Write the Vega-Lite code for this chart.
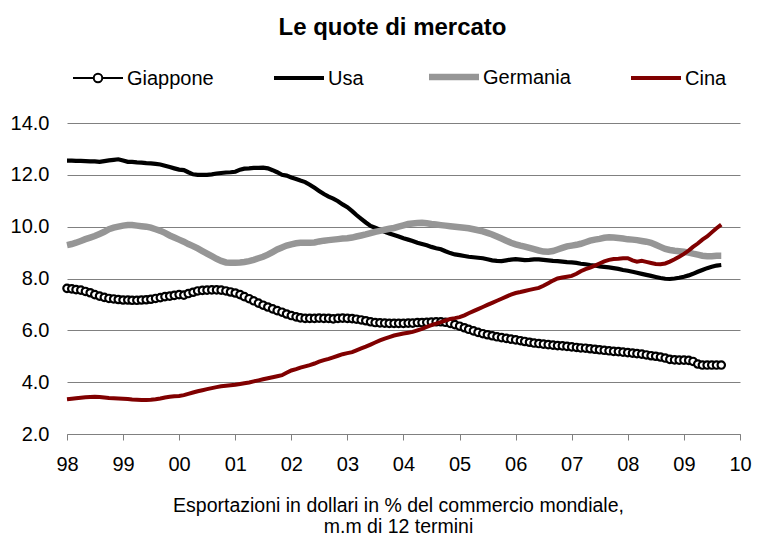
{
"$schema": "https://vega.github.io/schema/vega-lite/v6.json",
"width": 673, "height": 311,
"autosize": {"type": "none"},
"padding": {"left": 67, "top": 123, "right": 21, "bottom": 108},
"background": "white",
"title": {"text": "Le quote di mercato", "font": "Liberation Sans", "fontSize": 24, "fontWeight": "bold", "color": "black", "anchor": "middle", "dx": -11, "offset": 12},
"config": {"view": {"stroke": null}, "font": "Liberation Sans"},
"datasets": {
"gia": [
{"d":"1998-01","v":7.62},{"d":"1998-02","v":7.6},{"d":"1998-03","v":7.57},{"d":"1998-04","v":7.55},{"d":"1998-05","v":7.5},{"d":"1998-06","v":7.45},{"d":"1998-07","v":7.38},{"d":"1998-08","v":7.32},{"d":"1998-09","v":7.27},{"d":"1998-10","v":7.23},{"d":"1998-11","v":7.21},{"d":"1998-12","v":7.19},
{"d":"1999-01","v":7.17},{"d":"1999-02","v":7.17},{"d":"1999-03","v":7.16},{"d":"1999-04","v":7.16},{"d":"1999-05","v":7.17},{"d":"1999-06","v":7.18},{"d":"1999-07","v":7.2},{"d":"1999-08","v":7.23},{"d":"1999-09","v":7.26},{"d":"1999-10","v":7.3},{"d":"1999-11","v":7.32},{"d":"1999-12","v":7.35},
{"d":"2000-01","v":7.38},{"d":"2000-02","v":7.36},{"d":"2000-03","v":7.42},{"d":"2000-04","v":7.47},{"d":"2000-05","v":7.52},{"d":"2000-06","v":7.54},{"d":"2000-07","v":7.55},{"d":"2000-08","v":7.56},{"d":"2000-09","v":7.56},{"d":"2000-10","v":7.55},{"d":"2000-11","v":7.52},{"d":"2000-12","v":7.48},
{"d":"2001-01","v":7.44},{"d":"2001-02","v":7.38},{"d":"2001-03","v":7.3},{"d":"2001-04","v":7.22},{"d":"2001-05","v":7.14},{"d":"2001-06","v":7.05},{"d":"2001-07","v":6.97},{"d":"2001-08","v":6.9},{"d":"2001-09","v":6.83},{"d":"2001-10","v":6.76},{"d":"2001-11","v":6.7},{"d":"2001-12","v":6.63},
{"d":"2002-01","v":6.57},{"d":"2002-02","v":6.52},{"d":"2002-03","v":6.48},{"d":"2002-04","v":6.46},{"d":"2002-05","v":6.46},{"d":"2002-06","v":6.46},{"d":"2002-07","v":6.47},{"d":"2002-08","v":6.46},{"d":"2002-09","v":6.46},{"d":"2002-10","v":6.44},{"d":"2002-11","v":6.46},{"d":"2002-12","v":6.47},
{"d":"2003-01","v":6.46},{"d":"2003-02","v":6.45},{"d":"2003-03","v":6.43},{"d":"2003-04","v":6.4},{"d":"2003-05","v":6.37},{"d":"2003-06","v":6.33},{"d":"2003-07","v":6.3},{"d":"2003-08","v":6.29},{"d":"2003-09","v":6.28},{"d":"2003-10","v":6.27},{"d":"2003-11","v":6.27},{"d":"2003-12","v":6.27},
{"d":"2004-01","v":6.27},{"d":"2004-02","v":6.28},{"d":"2004-03","v":6.28},{"d":"2004-04","v":6.3},{"d":"2004-05","v":6.3},{"d":"2004-06","v":6.31},{"d":"2004-07","v":6.32},{"d":"2004-08","v":6.33},{"d":"2004-09","v":6.33},{"d":"2004-10","v":6.31},{"d":"2004-11","v":6.27},{"d":"2004-12","v":6.22},
{"d":"2005-01","v":6.16},{"d":"2005-02","v":6.1},{"d":"2005-03","v":6.04},{"d":"2005-04","v":5.98},{"d":"2005-05","v":5.92},{"d":"2005-06","v":5.87},{"d":"2005-07","v":5.83},{"d":"2005-08","v":5.79},{"d":"2005-09","v":5.75},{"d":"2005-10","v":5.72},{"d":"2005-11","v":5.69},{"d":"2005-12","v":5.66},
{"d":"2006-01","v":5.63},{"d":"2006-02","v":5.6},{"d":"2006-03","v":5.57},{"d":"2006-04","v":5.54},{"d":"2006-05","v":5.51},{"d":"2006-06","v":5.49},{"d":"2006-07","v":5.47},{"d":"2006-08","v":5.45},{"d":"2006-09","v":5.43},{"d":"2006-10","v":5.41},{"d":"2006-11","v":5.4},{"d":"2006-12","v":5.38},
{"d":"2007-01","v":5.36},{"d":"2007-02","v":5.34},{"d":"2007-03","v":5.32},{"d":"2007-04","v":5.31},{"d":"2007-05","v":5.29},{"d":"2007-06","v":5.27},{"d":"2007-07","v":5.25},{"d":"2007-08","v":5.23},{"d":"2007-09","v":5.21},{"d":"2007-10","v":5.19},{"d":"2007-11","v":5.18},{"d":"2007-12","v":5.16},
{"d":"2008-01","v":5.14},{"d":"2008-02","v":5.12},{"d":"2008-03","v":5.1},{"d":"2008-04","v":5.08},{"d":"2008-05","v":5.05},{"d":"2008-06","v":5.02},{"d":"2008-07","v":5.0},{"d":"2008-08","v":4.97},{"d":"2008-09","v":4.93},{"d":"2008-10","v":4.88},{"d":"2008-11","v":4.86},{"d":"2008-12","v":4.85},
{"d":"2009-01","v":4.85},{"d":"2009-02","v":4.84},{"d":"2009-03","v":4.8},{"d":"2009-04","v":4.7},{"d":"2009-05","v":4.66},{"d":"2009-06","v":4.66},{"d":"2009-07","v":4.66},{"d":"2009-08","v":4.66},{"d":"2009-09","v":4.66}
],
"usa": [
{"d":"1998-01","v":12.55},{"d":"1998-02","v":12.55},{"d":"1998-03","v":12.54},{"d":"1998-04","v":12.54},{"d":"1998-05","v":12.53},{"d":"1998-06","v":12.52},{"d":"1998-07","v":12.52},{"d":"1998-08","v":12.5},{"d":"1998-09","v":12.53},{"d":"1998-10","v":12.56},{"d":"1998-11","v":12.58},{"d":"1998-12","v":12.6},
{"d":"1999-01","v":12.55},{"d":"1999-02","v":12.5},{"d":"1999-03","v":12.5},{"d":"1999-04","v":12.48},{"d":"1999-05","v":12.47},{"d":"1999-06","v":12.45},{"d":"1999-07","v":12.44},{"d":"1999-08","v":12.42},{"d":"1999-09","v":12.4},{"d":"1999-10","v":12.35},{"d":"1999-11","v":12.3},{"d":"1999-12","v":12.25},
{"d":"2000-01","v":12.2},{"d":"2000-02","v":12.18},{"d":"2000-03","v":12.1},{"d":"2000-04","v":12.02},{"d":"2000-05","v":12.0},{"d":"2000-06","v":12.0},{"d":"2000-07","v":12.0},{"d":"2000-08","v":12.02},{"d":"2000-09","v":12.05},{"d":"2000-10","v":12.07},{"d":"2000-11","v":12.09},{"d":"2000-12","v":12.1},
{"d":"2001-01","v":12.12},{"d":"2001-02","v":12.2},{"d":"2001-03","v":12.24},{"d":"2001-04","v":12.25},{"d":"2001-05","v":12.27},{"d":"2001-06","v":12.27},{"d":"2001-07","v":12.28},{"d":"2001-08","v":12.25},{"d":"2001-09","v":12.18},{"d":"2001-10","v":12.1},{"d":"2001-11","v":12.0},{"d":"2001-12","v":11.97},
{"d":"2002-01","v":11.9},{"d":"2002-02","v":11.84},{"d":"2002-03","v":11.78},{"d":"2002-04","v":11.72},{"d":"2002-05","v":11.62},{"d":"2002-06","v":11.5},{"d":"2002-07","v":11.38},{"d":"2002-08","v":11.26},{"d":"2002-09","v":11.16},{"d":"2002-10","v":11.08},{"d":"2002-11","v":10.98},{"d":"2002-12","v":10.86},
{"d":"2003-01","v":10.75},{"d":"2003-02","v":10.6},{"d":"2003-03","v":10.45},{"d":"2003-04","v":10.3},{"d":"2003-05","v":10.16},{"d":"2003-06","v":10.03},{"d":"2003-07","v":9.96},{"d":"2003-08","v":9.88},{"d":"2003-09","v":9.8},{"d":"2003-10","v":9.74},{"d":"2003-11","v":9.68},{"d":"2003-12","v":9.62},
{"d":"2004-01","v":9.55},{"d":"2004-02","v":9.5},{"d":"2004-03","v":9.45},{"d":"2004-04","v":9.38},{"d":"2004-05","v":9.33},{"d":"2004-06","v":9.28},{"d":"2004-07","v":9.22},{"d":"2004-08","v":9.17},{"d":"2004-09","v":9.13},{"d":"2004-10","v":9.05},{"d":"2004-11","v":8.98},{"d":"2004-12","v":8.93},
{"d":"2005-01","v":8.9},{"d":"2005-02","v":8.87},{"d":"2005-03","v":8.84},{"d":"2005-04","v":8.82},{"d":"2005-05","v":8.8},{"d":"2005-06","v":8.78},{"d":"2005-07","v":8.74},{"d":"2005-08","v":8.7},{"d":"2005-09","v":8.68},{"d":"2005-10","v":8.67},{"d":"2005-11","v":8.7},{"d":"2005-12","v":8.73},
{"d":"2006-01","v":8.75},{"d":"2006-02","v":8.73},{"d":"2006-03","v":8.71},{"d":"2006-04","v":8.72},{"d":"2006-05","v":8.74},{"d":"2006-06","v":8.74},{"d":"2006-07","v":8.72},{"d":"2006-08","v":8.7},{"d":"2006-09","v":8.68},{"d":"2006-10","v":8.67},{"d":"2006-11","v":8.65},{"d":"2006-12","v":8.63},
{"d":"2007-01","v":8.62},{"d":"2007-02","v":8.6},{"d":"2007-03","v":8.57},{"d":"2007-04","v":8.55},{"d":"2007-05","v":8.52},{"d":"2007-06","v":8.5},{"d":"2007-07","v":8.47},{"d":"2007-08","v":8.45},{"d":"2007-09","v":8.43},{"d":"2007-10","v":8.4},{"d":"2007-11","v":8.37},{"d":"2007-12","v":8.33},
{"d":"2008-01","v":8.3},{"d":"2008-02","v":8.26},{"d":"2008-03","v":8.22},{"d":"2008-04","v":8.18},{"d":"2008-05","v":8.14},{"d":"2008-06","v":8.1},{"d":"2008-07","v":8.06},{"d":"2008-08","v":8.02},{"d":"2008-09","v":7.99},{"d":"2008-10","v":7.98},{"d":"2008-11","v":8.0},{"d":"2008-12","v":8.03},
{"d":"2009-01","v":8.07},{"d":"2009-02","v":8.12},{"d":"2009-03","v":8.18},{"d":"2009-04","v":8.26},{"d":"2009-05","v":8.33},{"d":"2009-06","v":8.4},{"d":"2009-07","v":8.45},{"d":"2009-08","v":8.5},{"d":"2009-09","v":8.52}
],
"ger": [
{"d":"1998-01","v":9.29},{"d":"1998-02","v":9.33},{"d":"1998-03","v":9.38},{"d":"1998-04","v":9.45},{"d":"1998-05","v":9.52},{"d":"1998-06","v":9.58},{"d":"1998-07","v":9.64},{"d":"1998-08","v":9.72},{"d":"1998-09","v":9.8},{"d":"1998-10","v":9.9},{"d":"1998-11","v":9.96},{"d":"1998-12","v":10.0},
{"d":"1999-01","v":10.04},{"d":"1999-02","v":10.06},{"d":"1999-03","v":10.06},{"d":"1999-04","v":10.04},{"d":"1999-05","v":10.02},{"d":"1999-06","v":10.0},{"d":"1999-07","v":9.96},{"d":"1999-08","v":9.9},{"d":"1999-09","v":9.84},{"d":"1999-10","v":9.76},{"d":"1999-11","v":9.66},{"d":"1999-12","v":9.58},
{"d":"2000-01","v":9.5},{"d":"2000-02","v":9.42},{"d":"2000-03","v":9.33},{"d":"2000-04","v":9.25},{"d":"2000-05","v":9.16},{"d":"2000-06","v":9.06},{"d":"2000-07","v":8.96},{"d":"2000-08","v":8.86},{"d":"2000-09","v":8.76},{"d":"2000-10","v":8.68},{"d":"2000-11","v":8.62},{"d":"2000-12","v":8.61},
{"d":"2001-01","v":8.61},{"d":"2001-02","v":8.62},{"d":"2001-03","v":8.64},{"d":"2001-04","v":8.67},{"d":"2001-05","v":8.72},{"d":"2001-06","v":8.78},{"d":"2001-07","v":8.84},{"d":"2001-08","v":8.92},{"d":"2001-09","v":9.02},{"d":"2001-10","v":9.12},{"d":"2001-11","v":9.2},{"d":"2001-12","v":9.27},
{"d":"2002-01","v":9.32},{"d":"2002-02","v":9.36},{"d":"2002-03","v":9.38},{"d":"2002-04","v":9.38},{"d":"2002-05","v":9.38},{"d":"2002-06","v":9.39},{"d":"2002-07","v":9.43},{"d":"2002-08","v":9.46},{"d":"2002-09","v":9.48},{"d":"2002-10","v":9.5},{"d":"2002-11","v":9.52},{"d":"2002-12","v":9.54},
{"d":"2003-01","v":9.55},{"d":"2003-02","v":9.58},{"d":"2003-03","v":9.62},{"d":"2003-04","v":9.66},{"d":"2003-05","v":9.7},{"d":"2003-06","v":9.75},{"d":"2003-07","v":9.8},{"d":"2003-08","v":9.84},{"d":"2003-09","v":9.88},{"d":"2003-10","v":9.92},{"d":"2003-11","v":9.95},{"d":"2003-12","v":10.0},
{"d":"2004-01","v":10.05},{"d":"2004-02","v":10.1},{"d":"2004-03","v":10.12},{"d":"2004-04","v":10.14},{"d":"2004-05","v":10.15},{"d":"2004-06","v":10.13},{"d":"2004-07","v":10.1},{"d":"2004-08","v":10.08},{"d":"2004-09","v":10.06},{"d":"2004-10","v":10.04},{"d":"2004-11","v":10.02},{"d":"2004-12","v":10.0},
{"d":"2005-01","v":9.98},{"d":"2005-02","v":9.96},{"d":"2005-03","v":9.94},{"d":"2005-04","v":9.9},{"d":"2005-05","v":9.86},{"d":"2005-06","v":9.82},{"d":"2005-07","v":9.76},{"d":"2005-08","v":9.7},{"d":"2005-09","v":9.62},{"d":"2005-10","v":9.54},{"d":"2005-11","v":9.46},{"d":"2005-12","v":9.38},
{"d":"2006-01","v":9.32},{"d":"2006-02","v":9.27},{"d":"2006-03","v":9.23},{"d":"2006-04","v":9.18},{"d":"2006-05","v":9.13},{"d":"2006-06","v":9.08},{"d":"2006-07","v":9.04},{"d":"2006-08","v":9.03},{"d":"2006-09","v":9.06},{"d":"2006-10","v":9.12},{"d":"2006-11","v":9.18},{"d":"2006-12","v":9.24},
{"d":"2007-01","v":9.27},{"d":"2007-02","v":9.3},{"d":"2007-03","v":9.34},{"d":"2007-04","v":9.4},{"d":"2007-05","v":9.46},{"d":"2007-06","v":9.5},{"d":"2007-07","v":9.53},{"d":"2007-08","v":9.57},{"d":"2007-09","v":9.59},{"d":"2007-10","v":9.58},{"d":"2007-11","v":9.56},{"d":"2007-12","v":9.54},
{"d":"2008-01","v":9.51},{"d":"2008-02","v":9.5},{"d":"2008-03","v":9.48},{"d":"2008-04","v":9.45},{"d":"2008-05","v":9.42},{"d":"2008-06","v":9.38},{"d":"2008-07","v":9.3},{"d":"2008-08","v":9.22},{"d":"2008-09","v":9.14},{"d":"2008-10","v":9.1},{"d":"2008-11","v":9.07},{"d":"2008-12","v":9.05},
{"d":"2009-01","v":9.03},{"d":"2009-02","v":9.0},{"d":"2009-03","v":8.96},{"d":"2009-04","v":8.92},{"d":"2009-05","v":8.88},{"d":"2009-06","v":8.86},{"d":"2009-07","v":8.86},{"d":"2009-08","v":8.88},{"d":"2009-09","v":8.88}
],
"cin": [
{"d":"1998-01","v":3.34},{"d":"1998-02","v":3.36},{"d":"1998-03","v":3.38},{"d":"1998-04","v":3.4},{"d":"1998-05","v":3.42},{"d":"1998-06","v":3.43},{"d":"1998-07","v":3.44},{"d":"1998-08","v":3.43},{"d":"1998-09","v":3.41},{"d":"1998-10","v":3.39},{"d":"1998-11","v":3.38},{"d":"1998-12","v":3.37},
{"d":"1999-01","v":3.36},{"d":"1999-02","v":3.35},{"d":"1999-03","v":3.33},{"d":"1999-04","v":3.32},{"d":"1999-05","v":3.31},{"d":"1999-06","v":3.31},{"d":"1999-07","v":3.32},{"d":"1999-08","v":3.34},{"d":"1999-09","v":3.37},{"d":"1999-10","v":3.41},{"d":"1999-11","v":3.44},{"d":"1999-12","v":3.46},
{"d":"2000-01","v":3.47},{"d":"2000-02","v":3.5},{"d":"2000-03","v":3.55},{"d":"2000-04","v":3.6},{"d":"2000-05","v":3.65},{"d":"2000-06","v":3.69},{"d":"2000-07","v":3.73},{"d":"2000-08","v":3.77},{"d":"2000-09","v":3.81},{"d":"2000-10","v":3.84},{"d":"2000-11","v":3.86},{"d":"2000-12","v":3.88},
{"d":"2001-01","v":3.9},{"d":"2001-02","v":3.93},{"d":"2001-03","v":3.96},{"d":"2001-04","v":3.99},{"d":"2001-05","v":4.03},{"d":"2001-06","v":4.07},{"d":"2001-07","v":4.11},{"d":"2001-08","v":4.15},{"d":"2001-09","v":4.19},{"d":"2001-10","v":4.23},{"d":"2001-11","v":4.27},{"d":"2001-12","v":4.36},
{"d":"2002-01","v":4.45},{"d":"2002-02","v":4.5},{"d":"2002-03","v":4.56},{"d":"2002-04","v":4.61},{"d":"2002-05","v":4.66},{"d":"2002-06","v":4.72},{"d":"2002-07","v":4.79},{"d":"2002-08","v":4.85},{"d":"2002-09","v":4.9},{"d":"2002-10","v":4.96},{"d":"2002-11","v":5.02},{"d":"2002-12","v":5.08},
{"d":"2003-01","v":5.12},{"d":"2003-02","v":5.16},{"d":"2003-03","v":5.23},{"d":"2003-04","v":5.3},{"d":"2003-05","v":5.37},{"d":"2003-06","v":5.45},{"d":"2003-07","v":5.53},{"d":"2003-08","v":5.61},{"d":"2003-09","v":5.68},{"d":"2003-10","v":5.74},{"d":"2003-11","v":5.8},{"d":"2003-12","v":5.84},
{"d":"2004-01","v":5.88},{"d":"2004-02","v":5.91},{"d":"2004-03","v":5.94},{"d":"2004-04","v":6.0},{"d":"2004-05","v":6.06},{"d":"2004-06","v":6.13},{"d":"2004-07","v":6.2},{"d":"2004-08","v":6.26},{"d":"2004-09","v":6.32},{"d":"2004-10","v":6.38},{"d":"2004-11","v":6.44},{"d":"2004-12","v":6.47},
{"d":"2005-01","v":6.51},{"d":"2005-02","v":6.58},{"d":"2005-03","v":6.66},{"d":"2005-04","v":6.74},{"d":"2005-05","v":6.82},{"d":"2005-06","v":6.9},{"d":"2005-07","v":6.98},{"d":"2005-08","v":7.06},{"d":"2005-09","v":7.14},{"d":"2005-10","v":7.22},{"d":"2005-11","v":7.3},{"d":"2005-12","v":7.38},
{"d":"2006-01","v":7.44},{"d":"2006-02","v":7.48},{"d":"2006-03","v":7.52},{"d":"2006-04","v":7.56},{"d":"2006-05","v":7.6},{"d":"2006-06","v":7.64},{"d":"2006-07","v":7.72},{"d":"2006-08","v":7.82},{"d":"2006-09","v":7.92},{"d":"2006-10","v":8.0},{"d":"2006-11","v":8.04},{"d":"2006-12","v":8.07},
{"d":"2007-01","v":8.1},{"d":"2007-02","v":8.18},{"d":"2007-03","v":8.28},{"d":"2007-04","v":8.36},{"d":"2007-05","v":8.42},{"d":"2007-06","v":8.5},{"d":"2007-07","v":8.58},{"d":"2007-08","v":8.66},{"d":"2007-09","v":8.72},{"d":"2007-10","v":8.75},{"d":"2007-11","v":8.76},{"d":"2007-12","v":8.78},
{"d":"2008-01","v":8.78},{"d":"2008-02","v":8.7},{"d":"2008-03","v":8.65},{"d":"2008-04","v":8.68},{"d":"2008-05","v":8.64},{"d":"2008-06","v":8.6},{"d":"2008-07","v":8.56},{"d":"2008-08","v":8.55},{"d":"2008-09","v":8.58},{"d":"2008-10","v":8.65},{"d":"2008-11","v":8.74},{"d":"2008-12","v":8.84},
{"d":"2009-01","v":8.95},{"d":"2009-02","v":9.08},{"d":"2009-03","v":9.22},{"d":"2009-04","v":9.35},{"d":"2009-05","v":9.5},{"d":"2009-06","v":9.62},{"d":"2009-07","v":9.78},{"d":"2009-08","v":9.94},{"d":"2009-09","v":10.08}
]
},
"encoding": {
  "x": {"field": "d", "type": "temporal",
    "scale": {"type": "utc", "domain": ["1998-01-01", "2010-01-01"]},
    "axis": {"format": "%y", "tickCount": {"interval": "year", "step": 1}, "grid": false,
      "domainColor": "#808080", "domainWidth": 1, "tickColor": "#808080", "tickSize": 6, "tickWidth": 1,
      "labelFont": "Liberation Sans", "labelFontSize": 20, "labelColor": "black", "labelPadding": 14, "labelFlush": false, "labelOverlap": false,
      "title": ["Esportazioni in dollari in % del commercio mondiale,", "m.m di 12 termini"],
      "titleFont": "Liberation Sans", "titleFontSize": 19.5, "titleFontWeight": "normal", "titleColor": "black", "titleLineHeight": 21, "titlePadding": 22, "titleX": 331}},
  "y": {"field": "v", "type": "quantitative",
    "scale": {"domain": [2, 14], "nice": false, "zero": false},
    "axis": {"values": [2, 4, 6, 8, 10, 12, 14], "format": ".1f", "title": null, "domain": false, "ticks": false,
      "labelFont": "Liberation Sans", "labelFontSize": 20, "labelColor": "black", "labelPadding": 18,
      "gridColor": "#808080", "gridWidth": 1}}
},
"layer": [
  {"data": {"name": "gia"}, "mark": {"type": "line", "strokeWidth": 1.5},
   "encoding": {"color": {"datum": "Giappone", "type": "nominal",
     "scale": {"domain": ["Giappone", "Usa", "Germania", "Cina"], "range": ["#000000", "#000000", "#969696", "#800000"]},
     "legend": {"orient": "none", "legendX": 6, "legendY": -71, "direction": "horizontal", "title": null,
       "symbolType": "stroke", "symbolSize": 2500, "symbolStrokeWidth": 4, "symbolFillColor": "white",
       "labelFont": "Liberation Sans", "labelFontSize": 20, "labelColor": "black", "labelOffset": 5, "columnPadding": 52,
       "encode": {
         "symbols": {"update": {
           "x": {"value": 25}, "y": {"value": 25},
           "shape": {"signal": "datum.value === 'Giappone' ? 'M-1,0H-0.17M0.17,0H1M-0.17,0A0.17,0.17 0 1,1 0.17,0A0.17,0.17 0 1,1 -0.17,0Z' : 'stroke'"},
           "strokeWidth": {"signal": "datum.value === 'Giappone' ? 2 : datum.value === 'Germania' ? 6.5 : 4"},
           "fill": {"value": "white"}}},
         "labels": {"update": {"x": {"value": 54}, "y": {"value": 26}, "baseline": {"value": "middle"}}}}}}}},
  {"data": {"name": "gia"}, "mark": {"type": "point", "shape": "circle", "size": 55, "strokeWidth": 2.2, "fill": "white", "stroke": "black", "opacity": 1, "filled": false, "fillOpacity": 1}},
  {"data": {"name": "usa"}, "mark": {"type": "line", "strokeWidth": 4.2}, "encoding": {"color": {"datum": "Usa", "type": "nominal"}}},
  {"data": {"name": "ger"}, "mark": {"type": "line", "strokeWidth": 6.5}, "encoding": {"color": {"datum": "Germania", "type": "nominal"}}},
  {"data": {"name": "cin"}, "mark": {"type": "line", "strokeWidth": 4}, "encoding": {"color": {"datum": "Cina", "type": "nominal"}}}
]
}
